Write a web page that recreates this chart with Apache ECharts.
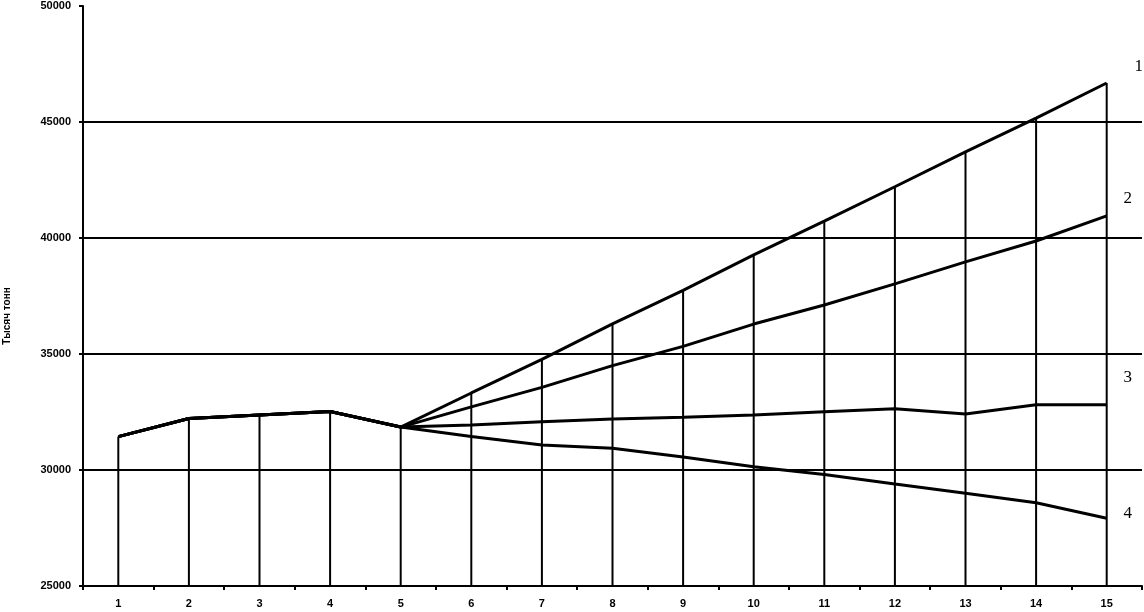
<!DOCTYPE html>
<html>
<head>
<meta charset="utf-8">
<script src="https://cdn.jsdelivr.net/npm/echarts@6/dist/echarts.min.js"></script>
<style>html,body{margin:0;padding:0;background:#fff}#c{width:1144px;height:612px}</style>
</head>
<body>
<div id="c"></div>
<script>
const categories = ['1','2','3','4','5','6','7','8','9','10','11','12','13','14','15'];
const yTicks = [25000, 30000, 35000, 40000, 45000, 50000];
const yAxisName = 'Тысяч тонн';
// common history (points 1..5)
const history = [31440, 32220, 32370, 32520, 31850];
// scenarios (points 6..15)
const scenario1 = [33320, 34770, 36300, 37740, 39270, 40730, 42210, 43710, 45170, 46680];
const scenario2 = [32720, 33560, 34500, 35330, 36290, 37110, 38020, 38970, 39870, 40950];
const scenario3 = [31940, 32080, 32200, 32270, 32370, 32510, 32640, 32410, 32810, 32810];
const scenario4 = [31440, 31080, 30940, 30560, 30140, 29810, 29400, 29000, 28590, 27920];
const seriesNames = ['1', '2', '3', '4'];

const all = [scenario1, scenario2, scenario3, scenario4].map(s => history.concat(s));
const dropTop = categories.map((c, i) => [i, Math.max(...all.map(s => s[i]))]);
const yMin = yTicks[0], yMax = yTicks[yTicks.length - 1];

const labelLayouts = [
  {distance: 32, offset: [0, -16]},
  {distance: 21, offset: [0, -17]},
  {distance: 21, offset: [0, -27]},
  {distance: 21, offset: [0, -5]}
];

const chart = echarts.init(document.getElementById('c'));
chart.setOption({
  animation: false,
  backgroundColor: '#fff',
  grid: {left: 83, right: 2, top: 6, bottom: 26, containLabel: false, outerBoundsMode: 'none'},
  xAxis: {
    type: 'category',
    data: categories,
    boundaryGap: true,
    axisLine: {lineStyle: {color: '#000', width: 2}},
    axisTick: {show: true, length: 4, lineStyle: {color: '#000', width: 2}},
    axisLabel: {color: '#000', fontSize: 11, fontWeight: 'bold', fontFamily: 'Liberation Sans', margin: 12},
    splitLine: {show: false}
  },
  yAxis: {
    type: 'value',
    min: yMin, max: yMax, interval: yTicks[1] - yTicks[0],
    name: yAxisName,
    nameLocation: 'middle',
    nameGap: 71,
    nameRotate: 90,
    nameTextStyle: {color: '#000', fontSize: 10, fontWeight: 'bold', fontFamily: 'Liberation Sans', padding: [0, 40, 0, 0]},
    axisLine: {show: true, lineStyle: {color: '#000', width: 2}},
    axisTick: {show: true, length: 4, lineStyle: {color: '#000', width: 2}},
    axisLabel: {color: '#000', fontSize: 11, fontWeight: 'bold', fontFamily: 'Liberation Sans', margin: 12,
      formatter: v => String(v)},
    splitLine: {show: true, showMaxLine: false, lineStyle: {color: '#000', width: 2}}
  },
  series: [
    {
      type: 'custom',
      name: 'drop',
      data: dropTop,
      silent: true,
      z: 1,
      renderItem: function (params, api) {
        const top = api.coord([api.value(0), api.value(1)]);
        const bot = api.coord([api.value(0), yMin]);
        return {type: 'line', shape: {x1: top[0], y1: top[1], x2: bot[0], y2: bot[1]}, style: {stroke: '#000', lineWidth: 2}};
      }
    }
  ].concat(all.map((d, k) => ({
    type: 'line',
    name: seriesNames[k],
    data: d,
    symbol: 'none',
    z: 3,
    lineStyle: {color: '#000', width: 3},
    endLabel: {
      show: true,
      formatter: seriesNames[k],
      color: '#000',
      fontSize: 17,
      fontFamily: 'Liberation Serif',
      align: 'center',
      verticalAlign: 'middle',
      distance: labelLayouts[k].distance,
      offset: labelLayouts[k].offset
    }
  })))
});
</script>
</body>
</html>
